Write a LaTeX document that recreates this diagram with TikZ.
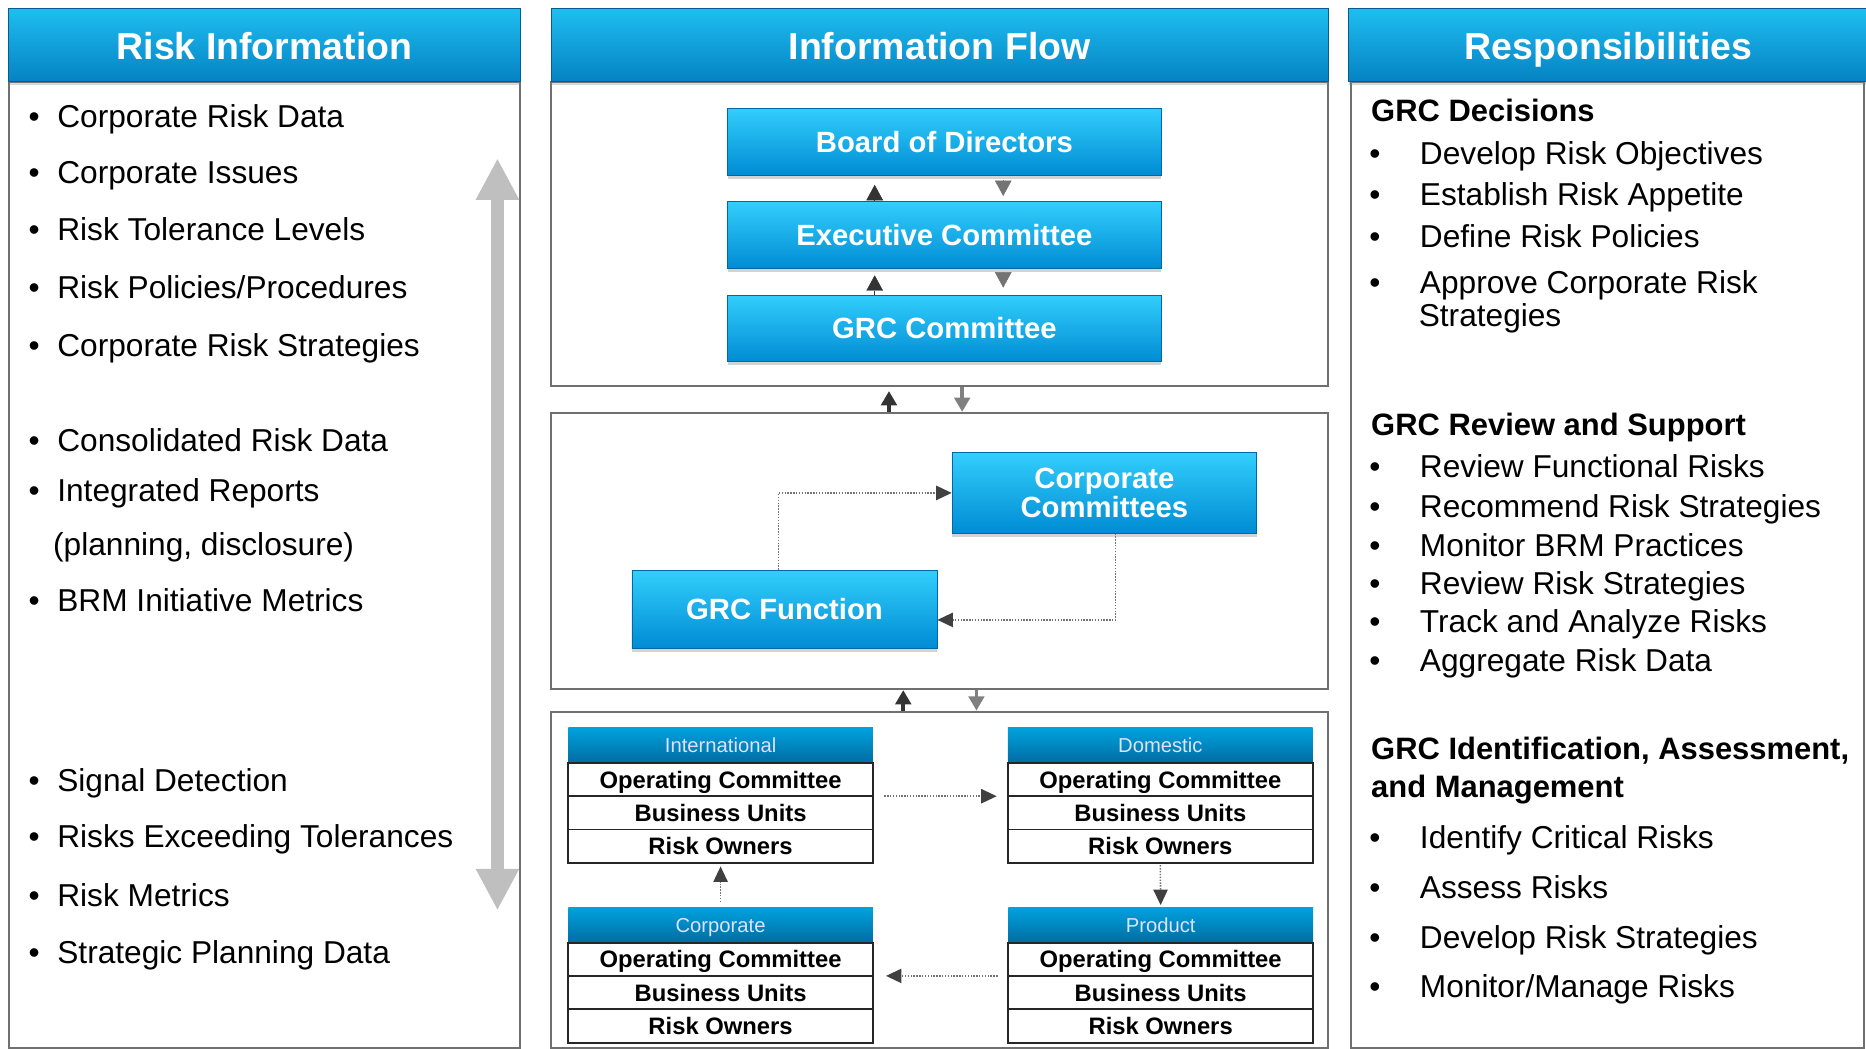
\documentclass[tikz,border=0pt]{standalone}
\usepackage{fontspec}
\setmainfont{Liberation Sans}
\usepackage{tikz}
\usetikzlibrary{arrows.meta,positioning,shadows}

\definecolor{hdtop}{RGB}{30,190,240}
\definecolor{hdbot}{RGB}{5,130,195}
\definecolor{hdline}{RGB}{10,90,140}
\definecolor{bxtop}{RGB}{50,206,252}
\definecolor{bxbot}{RGB}{0,140,212}
\definecolor{bxline}{RGB}{0,105,165}
\definecolor{thtop}{RGB}{0,162,222}
\definecolor{thbot}{RGB}{0,108,162}
\definecolor{panelgray}{RGB}{112,112,112}

\newcommand{\lbul}{\makebox[24.2pt][l]{\textbullet}}
\newcommand{\rbul}{\makebox[42.6pt][l]{\textbullet}}

\begin{document}
\begin{tikzpicture}[x=1pt,y=-1pt,
			colhead/.style={minimum height=61.6pt, inner sep=0pt, top color=hdtop, bottom color=hdbot,
				draw=hdline, line width=0.8pt, text=white, font=\bfseries\fontsize{31.5}{34}\selectfont,
				text height=25.2pt, text depth=0pt,
				drop shadow={shadow xshift=0pt, shadow yshift=-3pt, opacity=0.3}},
			panel/.style={draw=panelgray, line width=1.8pt, minimum width=653pt, inner sep=0pt},
			blk/.style={minimum width=364pt, minimum height=56pt, inner sep=0pt, top color=bxtop, bottom color=bxbot,
				draw=bxline, line width=0.6pt, text=white, font=\bfseries\fontsize{24.6}{24.5}\selectfont,
				drop shadow={shadow xshift=0pt, shadow yshift=-3pt, opacity=0.35}},
			one/.style={text height=17.6pt, text depth=0pt},
			thd/.style={minimum width=256pt, minimum height=29.5pt, inner sep=0pt, outer sep=0pt,
				top color=thtop, bottom color=thbot, text=white!88!blue, font=\fontsize{17}{19}\selectfont,
				text height=12.2pt, text depth=0pt},
			cell/.style={minimum width=256pt, minimum height=28pt, inner sep=0pt, outer sep=0pt,
				draw=black!85, line width=1.6pt, fill=white, font=\bfseries\fontsize{20}{22}\selectfont,
				text height=14.3pt, text depth=0pt},
			entry/.style={anchor=base west, inner sep=0pt, font=\fontsize{26.6}{29}\selectfont},
			sect/.style={anchor=base west, inner sep=0pt, font=\bfseries\fontsize{26}{32}\selectfont},
			flow/.style={draw=black!55, line width=1.3pt, dash pattern=on 1.2pt off 1.2pt,
				-{Triangle[width=12pt,length=13pt,color=black!75]}},
			tup/.style={draw=black!80, line width=0.4pt, -{Triangle[width=14pt,length=13pt]}},
			tdn/.style={draw=black!55, line width=0.4pt, -{Triangle[width=14pt,length=13pt]}},
			pup/.style={draw=black!80, line width=3pt, -{Triangle[width=13pt,length=12pt]}},
			pdn/.style={draw=black!50, line width=3pt, -{Triangle[width=13pt,length=12pt]}},
			bigarr/.style={draw=black!25, line width=11pt,
				{Triangle[width=34pt,length=35pt]}-{Triangle[width=34pt,length=35pt]}}
			]
			\useasboundingbox (0,0) rectangle (1568,881);

			% Les colonnes
			\node[panel, minimum width=429.5pt, minimum height=812.4pt] (Lb) at (222.25,474.8) {};
			\node[panel, minimum width=431pt, minimum height=812.4pt] (Rb) at (1350.5,474.8) {};
			\node[panel, minimum height=255.4pt] (P1) at (789.5,196.3) {};
			\node[panel, minimum height=232pt] (P2) at (789.5,463) {};
			\node[panel, minimum height=283pt] (P3) at (789.5,739.5) {};

			\node[colhead, minimum width=429.5pt] (Lh) at (222.25,37.8) {Risk Information};
			\node[colhead, minimum width=653pt] (Mh) at (789.5,37.8) {Information Flow};
			\node[colhead, minimum width=436pt] (Rh) at (1351.5,37.8) {Responsibilities};

			% La fleche grise
			\coordinate (ga) at (418,133);
			\coordinate (gb) at (418,765);
			\draw[bigarr] (gb) -- (ga);

			% Risk Information
			\node[entry] (l1) at (23.8,107.5) {\lbul Corporate Risk Data};
			\node[entry] (l2) at (23.8,154) {\lbul Corporate Issues};
			\node[entry] (l3) at (23.8,202.3) {\lbul Risk Tolerance Levels};
			\node[entry] (l4) at (23.8,250.8) {\lbul Risk Policies/Procedures};
			\node[entry] (l5) at (23.8,299.2) {\lbul Corporate Risk Strategies};
			\node[entry] (l6) at (23.8,379.6) {\lbul Consolidated Risk Data};
			\node[entry] (l7) at (23.8,421.6) {\lbul Integrated Reports};
			\node[entry] (l7b) at (44.5,467) {(planning, disclosure)};
			\node[entry] (l8) at (23.8,513.5) {\lbul BRM Initiative Metrics};
			\node[entry] (l9) at (23.8,665.5) {\lbul Signal Detection};
			\node[entry] (l10) at (23.8,712.5) {\lbul Risks Exceeding Tolerances};
			\node[entry] (l11) at (23.8,761.5) {\lbul Risk Metrics};
			\node[entry] (l12) at (23.8,810) {\lbul Strategic Planning Data};

			% Les comites
			\node[blk, one] (Bd) at (793.6,119) {Board of Directors};
			\node[blk, one] (Ex) at (793.6,197.5) {Executive Committee};
			\node[blk, one] (GC) at (793.6,276) {GRC Committee};

			\draw[tup, shorten >=8pt] ([xshift=-58.6pt]Ex.north) -- ([xshift=-58.6pt]Bd.south);
			\draw[tdn, shorten <=4pt, shorten >=4.5pt] ([xshift=49.4pt]Bd.south) -- ([xshift=49.4pt]Ex.north);
			\draw[tup, shorten >=5.5pt] ([xshift=-58.6pt]GC.north) -- ([xshift=-58.6pt]Ex.south);
			\draw[tdn, shorten <=2.5pt, shorten >=6pt] ([xshift=49.4pt]Ex.south) -- ([xshift=49.4pt]GC.north);

			% Entre les panneaux
			\draw[pup, shorten >=3.7pt] ([xshift=-42.5pt]P2.north) -- ([xshift=-42.5pt]P1.south);
			\draw[pdn] ([xshift=19pt]P1.south) -- ([xshift=19pt]P2.north);
			\draw[pup] ([xshift=-30.5pt]P3.north) -- ([xshift=-30.5pt]P2.south);
			\draw[pdn] ([xshift=31pt]P2.south) -- ([xshift=31pt]P3.north);

			% GRC Function
			\node[blk, minimum width=256pt, minimum height=67.6pt, align=center] (CC) at (928,414.2) {Corporate\\Committees};
			\node[blk, one, minimum width=256.4pt, minimum height=65.8pt] (GF) at (659.2,511.9) {GRC Function};
			\draw[flow] ([xshift=-5pt]GF.north) |- (CC.west);
			\draw[flow] ([xshift=9.4pt]CC.south) |- ([yshift=-9pt]GF.east);

			% Les tableaux
			\node[thd] (In) at (605.5,626.3) {International};
			\node[cell, below=0pt of In] (Iop) {Operating Committee};
			\node[cell, below=0pt of Iop] (Ibu) {Business Units};
			\node[cell, below=0pt of Ibu] (Iro) {Risk Owners};

			\node[thd] (Do) at (975,626.3) {Domestic};
			\node[cell, below=0pt of Do] (Dop) {Operating Committee};
			\node[cell, below=0pt of Dop] (Dbu) {Business Units};
			\node[cell, below=0pt of Dbu] (Dro) {Risk Owners};

			\node[thd] (Co) at (605.5,777.3) {Corporate};
			\node[cell, below=0pt of Co] (Cop) {Operating Committee};
			\node[cell, below=0pt of Cop] (Cbu) {Business Units};
			\node[cell, below=0pt of Cbu] (Cro) {Risk Owners};

			\node[thd] (Pr) at (975.3,777.3) {Product};
			\node[cell, below=0pt of Pr] (Pop) {Operating Committee};
			\node[cell, below=0pt of Pop] (Pbu) {Business Units};
			\node[cell, below=0pt of Pbu] (Pro) {Risk Owners};

			\draw[flow] ([xshift=9.5pt]Iop.south east) -- ([xshift=-9.5pt]Dop.south west);
			\draw[flow] ([yshift=-2pt]Dro.south) -- ([yshift=2pt]Pr.north);
			\draw[flow] ([xshift=-9pt]Pop.south west) -- ([xshift=11pt]Cop.south east);
			\draw[flow] ([yshift=4.5pt]Co.north) -- ([yshift=-3pt]Iro.south);

			% Responsibilities
			\node[sect] (s1) at (1152,102.5) {GRC Decisions};
			\node[entry] (r1) at (1150.4,138) {\rbul Develop Risk Objectives};
			\node[entry] (r2) at (1150.4,173) {\rbul Establish Risk Appetite};
			\node[entry] (r3) at (1150.4,208.2) {\rbul Define Risk Policies};
			\node[entry] (r4) at (1150.4,247) {\rbul Approve Corporate Risk};
			\node[entry] (r4b) at (1192,274.3) {Strategies};

			\node[sect] (s2) at (1152,365.8) {GRC Review and Support};
			\node[entry] (r5) at (1150.4,401) {\rbul Review Functional Risks};
			\node[entry] (r6) at (1150.4,434.8) {\rbul Recommend Risk Strategies};
			\node[entry] (r7) at (1150.4,467.3) {\rbul Monitor BRM Practices};
			\node[entry] (r8) at (1150.4,499.6) {\rbul Review Risk Strategies};
			\node[entry] (r9) at (1150.4,531.4) {\rbul Track and Analyze Risks};
			\node[entry] (r10) at (1150.4,564.3) {\rbul Aggregate Risk Data};

			\node[sect] (s3) at (1152,637.9) {GRC Identification, Assessment,};
			\node[sect] (s3b) at (1152,670.2) {and Management};
			\node[entry] (r11) at (1150.4,712.9) {\rbul Identify Critical Risks};
			\node[entry] (r12) at (1150.4,754.7) {\rbul Assess Risks};
			\node[entry] (r13) at (1150.4,796.7) {\rbul Develop Risk Strategies};
			\node[entry] (r14) at (1150.4,837.9) {\rbul Monitor/Manage Risks};
		\end{tikzpicture}
\end{document}
